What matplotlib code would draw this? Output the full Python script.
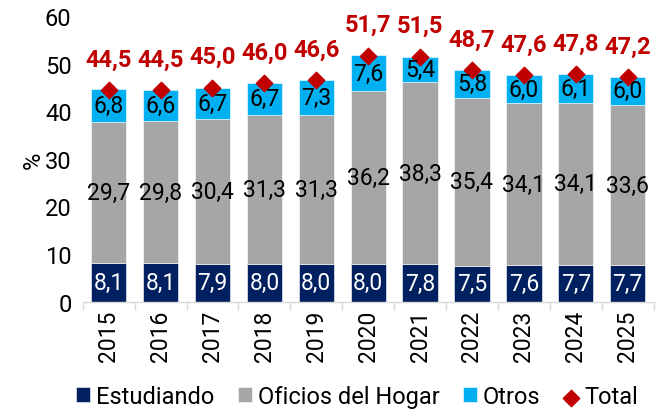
import matplotlib
matplotlib.use("Agg")
import matplotlib.pyplot as plt
import numpy as np

plt.rcParams["font.family"] = ["Roboto", "DejaVu Sans"]

years = ["2015", "2016", "2017", "2018", "2019", "2020", "2021", "2022", "2023", "2024", "2025"]
estudiando = [8.1, 8.1, 7.9, 8.0, 8.0, 8.0, 7.8, 7.5, 7.6, 7.7, 7.7]
oficios = [29.7, 29.8, 30.4, 31.3, 31.3, 36.2, 38.3, 35.4, 34.1, 34.1, 33.6]
otros = [6.8, 6.6, 6.7, 6.7, 7.3, 7.6, 5.4, 5.8, 6.0, 6.1, 6.0]
total = [44.5, 44.5, 45.0, 46.0, 46.6, 51.7, 51.5, 48.7, 47.6, 47.8, 47.2]

C_EST = "#002060"
C_OFI = "#A6A6A6"
C_OTR = "#00B0F0"
C_TOT = "#C00000"


def fmt(v):
    return f"{v:.1f}".replace(".", ",")


fig = plt.figure(figsize=(6.67, 4.10), dpi=100)
ax = fig.add_axes([0.124, 0.262, 0.856, 0.696])

x = np.arange(len(years))
w = 0.68
est = np.array(estudiando)
ofi = np.array(oficios)
otr = np.array(otros)

b1 = ax.bar(x, est, w, color=C_EST, edgecolor="white", linewidth=0.4, label="Estudiando")
b2 = ax.bar(x, ofi, w, bottom=est, color=C_OFI, edgecolor="white", linewidth=0.4,
            label="Oficios del Hogar")
b3 = ax.bar(x, otr, w, bottom=est + ofi, color=C_OTR, edgecolor="white", linewidth=0.4,
            label="Otros")
ax.scatter(x, total, marker="D", s=70, color=C_TOT, zorder=3, label="Total")

for i in range(len(years)):
    ax.text(x[i], est[i] / 2, fmt(est[i]), ha="center", va="center",
            color="white", fontsize=16.5)
    ax.text(x[i], est[i] + ofi[i] / 2, fmt(ofi[i]), ha="center", va="center",
            color="black", fontsize=16.5)
    ax.text(x[i], est[i] + ofi[i] + otr[i] / 2, fmt(otr[i]), ha="center", va="center",
            color="black", fontsize=16.5)
    ax.annotate(fmt(total[i]), (x[i], total[i]), xytext=(0, 14), textcoords="offset points",
                ha="center", va="bottom", color=C_TOT, fontsize=17, fontweight="bold")

ax.set_xlim(-0.5, len(years) - 0.5)
ax.set_ylim(0, 60)
ax.set_yticks(range(0, 61, 10))
ax.set_xticks(x)
ax.set_xticklabels(years, rotation=90, fontsize=16.5)
ax.tick_params(axis="y", labelsize=17, length=0, pad=8)
ax.tick_params(axis="x", length=0, pad=6)
ax.set_xticks(np.arange(-0.5, len(years), 1), minor=True)
ax.tick_params(axis="x", which="minor", length=6, color="#D9D9D9", width=1)
ax.set_ylabel("%", fontsize=17, labelpad=0)

for s in ["top", "right", "left"]:
    ax.spines[s].set_visible(False)
ax.spines["bottom"].set_color("#D9D9D9")
ax.spines["bottom"].set_linewidth(1)

fig.legend(handles=[b1, b2, b3, ax.collections[0]], loc="lower center",
           bbox_to_anchor=(0.535, -0.05), ncol=4, frameon=False, fontsize=17,
           handlelength=0.6, handleheight=0.6, handletextpad=0.25, columnspacing=1.0)

fig.savefig("out.png", dpi=100)
